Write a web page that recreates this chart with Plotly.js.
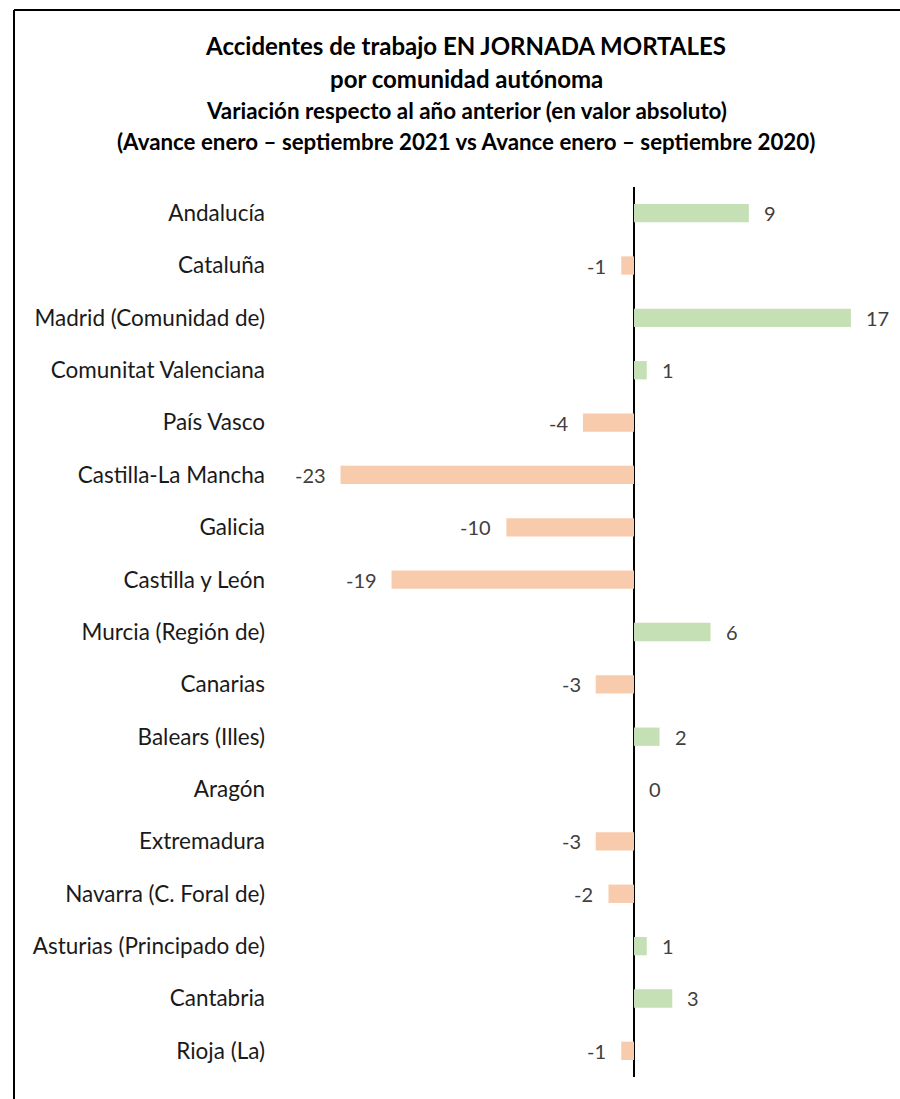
<!DOCTYPE html>
<html>
<head>
<meta charset="utf-8">
<script src="https://cdn.plot.ly/plotly-3.0.1.min.js"></script>
<style>html,body{margin:0;padding:0;background:#fff;}#chart{width:900px;height:1099px;}</style>
</head>
<body>
<div id="chart"></div>
<script>
const categories = ["Andalucía","Cataluña","Madrid (Comunidad de)","Comunitat Valenciana","País Vasco","Castilla-La Mancha","Galicia","Castilla y León","Murcia (Región de)","Canarias","Balears (Illes)","Aragón","Extremadura","Navarra (C. Foral de)","Asturias (Principado de)","Cantabria","Rioja (La)"];
const values = [9,-1,17,1,-4,-23,-10,-19,6,-3,2,0,-3,-2,1,3,-1];
const titleLines = ["Accidentes de trabajo EN JORNADA MORTALES","por comunidad autónoma","Variación respecto al año anterior (en valor absoluto)","(Avance enero – septiembre 2021 vs Avance enero – septiembre 2020)"];

const GREEN = "#C5E0B4", ORANGE = "#F8CBAD";
const W = 900, H = 1099, L = 290, R = 20, T = 187, B = 22;
const pw = W - L - R, ph = H - T - B;
const px = x => (x - L) / pw;
const py = y => (H - B - y) / ph;

const trace = {
  type: "bar", orientation: "h",
  x: values, y: categories,
  width: 0.35,
  marker: {color: values.map(v => v >= 0 ? GREEN : ORANGE)},
  hoverinfo: "x+y"
};

const annotations = values.map((v, i) => ({
  x: v, y: categories[i], xref: "x", yref: "y",
  text: String(v), showarrow: false,
  xanchor: v >= 0 ? "left" : "right",
  xshift: v >= 0 ? 13 : -13,
  font: {family: "Lato, sans-serif", size: 20, color: "#404040"}
}));

const subY = [78, 110, 141];
const subSize = [24, 22.4, 22.3];
for (let k = 1; k < 4; k++) {
  annotations.push({
    xref: "paper", yref: "paper", x: px(466), y: py(subY[k-1]),
    xanchor: "center", yanchor: "middle", showarrow: false,
    text: "<b>" + titleLines[k] + "</b>",
    font: {family: "Lato, sans-serif", size: subSize[k-1], color: "#000"}
  });
}

const layout = {
  width: W, height: H,
  margin: {l: L, r: R, t: T, b: B, autoexpand: false},
  paper_bgcolor: "#fff", plot_bgcolor: "#fff",
  showlegend: false,
  title: {
    text: "<b>" + titleLines[0] + "</b>",
    x: 466 / W, xref: "container", xanchor: "center",
    y: 1 - 47 / H, yref: "container", yanchor: "middle",
    font: {family: "Lato, sans-serif", size: 24, color: "#000"}
  },
  xaxis: {
    range: [-(634 - L) / 12.76, (W - R - 634) / 12.76],
    showgrid: false, showticklabels: false, ticks: "",
    zeroline: true, zerolinecolor: "#000", zerolinewidth: 2,
    showline: false, fixedrange: true
  },
  yaxis: {
    type: "category", autorange: "reversed",
    showgrid: false, zeroline: false, showline: false,
    ticks: "", ticklabelstandoff: 24,
    tickfont: {family: "Lato, sans-serif", size: 22.5, color: "#1a1a1a"},
    fixedrange: true
  },
  annotations: annotations,
  shapes: [
    {type: "line", xref: "paper", yref: "paper", x0: px(14), x1: px(14), y0: py(10), y1: py(1120), line: {color: "#000", width: 2}},
    {type: "line", xref: "paper", yref: "paper", x0: px(14), x1: px(910), y0: py(10), y1: py(10), line: {color: "#000", width: 2}}
  ]
};

Plotly.newPlot("chart", [trace], layout, {displayModeBar: false, staticPlot: true});
</script>
</body>
</html>
